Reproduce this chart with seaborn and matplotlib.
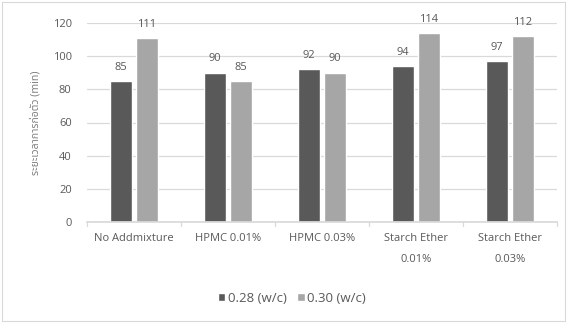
import matplotlib
matplotlib.use("Agg")
import matplotlib.pyplot as plt
import seaborn as sns
import pandas as pd
from matplotlib.patches import Rectangle

categories = ["No Addmixture", "HPMC 0.01%", "HPMC 0.03%", "Starch Ether\n0.01%", "Starch Ether\n0.03%"]
series_names = ["0.28 (w/c)", "0.30 (w/c)"]
values_028 = [85, 90, 92, 94, 97]
values_030 = [111, 85, 90, 114, 112]
yticks = [0, 20, 40, 60, 80, 100, 120]
ylabel = "ระยะเวลาการก่อตัว (min)"

df = pd.DataFrame({
    "cat": categories * 2,
    "series": [series_names[0]] * 5 + [series_names[1]] * 5,
    "value": values_028 + values_030,
})

sns.set_theme(style="white")
plt.rcParams["font.family"] = ["Open Sans", "Noto Sans", "DejaVu Sans"]
text_col = "#595959"

fig = plt.figure(figsize=(5.67, 3.23), dpi=100)
ax = fig.add_axes([87 / 567, 1 - 222 / 323, (557 - 87) / 567, (222 - 23) / 323])

palette = {series_names[0]: "#595959", series_names[1]: "#A6A6A6"}
sns.barplot(data=df, x="cat", y="value", hue="series", palette=palette,
            width=0.55, gap=0.12, ax=ax, saturation=1, legend=True)

ax.set_ylim(0, 120)
ax.set_yticks(yticks)
ax.yaxis.grid(True, color="#D9D9D9", linewidth=0.9)
ax.set_axisbelow(True)
for s in ["top", "right", "left"]:
    ax.spines[s].set_visible(False)
ax.spines["bottom"].set_color("#D9D9D9")
ax.set_xlim(-0.5, 4.5)
ax.tick_params(axis="y", length=0, colors=text_col, labelsize=8, pad=11)
ax.tick_params(axis="x", length=0, colors=text_col, labelsize=8, pad=8)
for lbl in ax.get_xticklabels():
    lbl.set_linespacing(2.2)
ax.set_xlabel("")
ax.set_ylabel(ylabel, color="#7F7F7F", fontsize=7.5, labelpad=8,
              family=["Noto Sans Thai", "Noto Sans", "DejaVu Sans"])

# category separator ticks along the baseline
for xb in [-0.5, 0.5, 1.5, 2.5, 3.5, 4.5]:
    ax.plot([xb, xb], [0, -2.2], color="#D9D9D9", lw=0.9, clip_on=False)

for cont in ax.containers:
    ax.bar_label(cont, fmt="%d", padding=6, color=text_col, fontsize=8)

leg = ax.legend(loc="center", bbox_to_anchor=(292 / 567, 1 - 298 / 323),
                bbox_transform=fig.transFigure, ncol=2, frameon=False,
                fontsize=9.5, handlelength=0.55, handleheight=0.55, handletextpad=0.2,
                columnspacing=0.8)
for t in leg.get_texts():
    t.set_color(text_col)

fig.patches.append(Rectangle((0.003, 0.005), 0.994, 0.99, transform=fig.transFigure,
                             fill=False, edgecolor="#D9D9D9", linewidth=0.8))

fig.savefig("out.png", dpi=100)
